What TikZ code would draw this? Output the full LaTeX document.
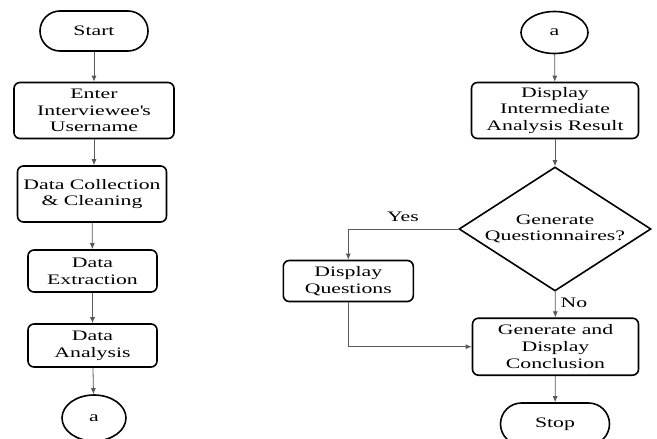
\documentclass[tikz,border=0pt]{standalone}
\usepackage{fontspec}
\setmainfont[FakeStretch=1.5]{Liberation Serif}
\usetikzlibrary{ positioning,      % For easy node-relative placements
                 shapes.geometric, % For the diamond
                 arrows.meta,      % For the arrow tips
               }

\begin{document}
\begin{tikzpicture}[x=1pt, y=-1pt,
    every node/.style={font=\fontsize{14.5}{16.7}\selectfont, align=center, inner sep=0pt},
    box/.style={draw, line width=1.6pt, rounded corners=6pt},
    term/.style={draw, line width=1.6pt, rounded corners=20pt},
    conn/.style={draw, ellipse, line width=1.6pt},
    arr/.style={-{Latex[length=6pt, width=5pt]}, line width=0.8pt, black!65}]
  \useasboundingbox (0,0) rectangle (657,439);

  % left column
  \node[term, minimum width=108pt, minimum height=40pt] (start) at (94,31) {Start};
  \node[box, minimum width=160pt, minimum height=56pt] (enter) at (94,110.5) {Enter\\Interviewee\textquotesingle s\\Username};
  \node[box, minimum width=149pt, minimum height=56pt] (collect) at (92,194) {Data Collection\\\& Cleaning};
  \node[box, minimum width=129pt, minimum height=42pt] (extract) at (92.5,271) {Data\\Extraction};
  \node[box, minimum width=129pt, minimum height=43pt] (analysis) at (92.5,345.5) {Data\\Analysis};
  \node[conn, minimum width=64pt, minimum height=46pt] (a_out) at (94,418) {a};

  % right column
  \node[conn, minimum width=67pt, minimum height=42pt] (a_in) at (554.5,32.5) {a};
  \node[box, minimum width=167pt, minimum height=56pt] (inter) at (555,110.5) {Display\\Intermediate\\Analysis Result};
  \node[diamond, draw, line width=1.6pt, minimum width=192pt, minimum height=124pt] (decide) at (555,229) {};
  \node (decide_text) at (555,229) {Generate\\Questionnaires?};
  \node[box, minimum width=130pt, minimum height=41pt] (questions) at (348.3,281) {Display\\Questions};
  \node[box, minimum width=166pt, minimum height=57pt] (conclude) at (555.5,346.7) {Generate and\\Display\\Conclusion};
  \node[term, minimum width=109pt, minimum height=42pt, rounded corners=21pt] (stop) at (555,424) {Stop};

  \node (yes) at (403,217) {Yes};
  \node (no) at (574,303) {No};

  \draw[arr] (start) -- (enter);
  \draw[arr] (enter.south) -- (collect.north -| enter.south);
  \draw[arr] (collect) -- (extract);
  \draw[arr] (extract) -- (analysis);
  \draw[arr] (analysis) -- (a_out);

  \draw[arr] (a_in) -- (inter);
  \draw[arr] (inter) -- (decide);
  \draw[arr] (decide.west) -| (questions.north);
  \draw[arr] (decide) -- (conclude);
  \draw[arr] (questions.south) |- (conclude.west);
  \draw[arr] (conclude) -- (stop);
\end{tikzpicture}
\end{document}
